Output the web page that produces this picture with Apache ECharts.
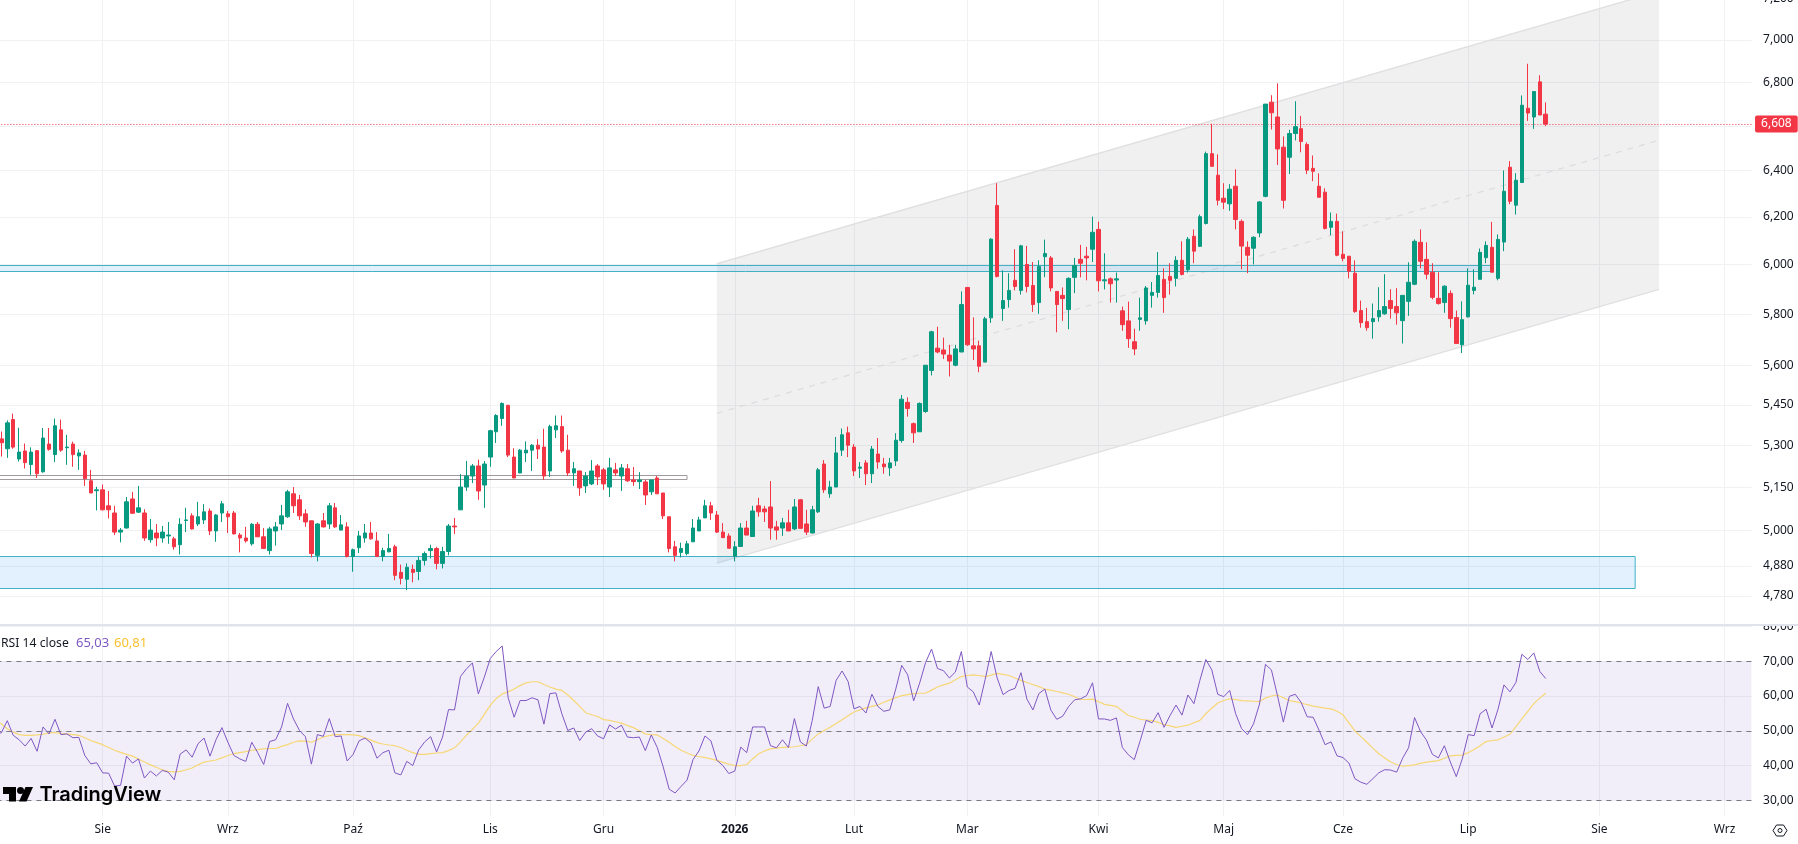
<!DOCTYPE html>
<html lang="pl">
<head>
<meta charset="utf-8">
<title>Wykres dzienny z RSI</title>
<script src="https://cdn.jsdelivr.net/npm/echarts@6/dist/echarts.min.js"></script>
<style>
  html, body { margin: 0; padding: 0; background: #fff; overflow: hidden; }
  #chart { width: 1798px; height: 844px; }
</style>
</head>
<body>
<div id="chart"></div>
<script>
// Daily session values, oldest first.
const opens = [
5324,5288,5395,5251,5280,5231,5281,5205,5305,5267,
5357,5292,5305,5262,5265,5173,5138,5141,5085,5060,
4994,5008,5109,5063,5060,4968,4991,4974,4981,4971,
4951,5034,5050,5022,5036,5067,4998,5060,5057,5060,
4984,4974,4954,5021,4978,4931,4998,5022,5047,5127,
5106,5057,5033,4915,5033,5022,5078,5001,5012,4911,
4941,4974,4991,4964,4911,4927,4944,4858,4835,4868,
4861,4898,4931,4938,4888,4928,5015,5071,5151,5190,
5226,5158,5258,5350,5399,5448,5258,5201,5273,5283,
5301,5294,5208,5357,5369,5283,5201,5208,5155,5162,
5226,5212,5151,5212,5190,5216,5176,5170,5169,5134,
5183,5130,5047,4944,4925,4921,4961,4998,5043,5085,
5053,4994,4981,4912,4945,5008,4979,5085,5074,5081,
5012,5008,5026,5005,5106,5022,4991,5064,5233,5127,
5151,5283,5346,5294,5218,5237,5198,5269,5233,5219,
5244,5318,5459,5380,5350,5425,5580,5666,5659,5639,
5600,5651,5907,5675,5675,5612,5785,6249,5822,5858,
5936,5895,6001,5915,5846,6033,6028,5891,5875,5818,
5948,6022,6035,6064,6147,5934,5942,5937,5813,5773,
5691,5779,5773,5875,5887,5940,5952,5944,6018,5979,
6118,6076,6172,6475,6380,6280,6256,6332,6181,6072,
6068,6132,6288,6708,6640,6504,6459,6565,6587,6516,
6410,6332,6306,6156,6181,6043,6035,5965,5814,5770,
5770,5789,5801,5854,5830,5774,5851,5920,6093,6022,
5969,5863,5846,5883,5786,5679,5789,5895,5940,6029,
6072,5944,6094,6415,6250,6348,6680,6640,6802,6653];

const closes = [
5310,5383,5294,5276,5238,5276,5198,5327,5286,5372,
5283,5294,5267,5273,5181,5130,5141,5071,5071,4994,
5001,5099,5059,5078,4974,5001,4974,4994,4984,4944,
5021,5036,5005,5047,5064,4998,5053,5092,5047,4988,
4974,4964,5021,4978,4938,5005,5012,5050,5134,5085,
5050,5029,4921,5022,5012,5085,5012,5019,4911,4934,
4981,4991,4971,4911,4931,4938,4848,4838,4875,4858,
4898,4921,4938,4888,4928,5015,5012,5151,5190,5226,
5137,5233,5354,5410,5455,5265,5183,5283,5283,5301,
5287,5190,5369,5372,5280,5201,5216,5148,5190,5208,
5187,5162,5219,5201,5219,5173,5170,5176,5123,5176,
5127,5050,4938,4915,4938,4954,5008,5036,5085,5060,
4994,4975,4939,4944,5008,4984,5067,5064,5064,5008,
5001,5026,4998,5081,5007,4994,5071,5212,5141,5151,
5273,5339,5301,5208,5222,5198,5287,5240,5223,5237,
5319,5471,5436,5346,5455,5600,5730,5651,5643,5616,
5663,5838,5679,5663,5596,5781,6106,5952,5854,5895,
5911,6078,5911,5838,5993,6046,5905,5838,5862,5944,
5997,6006,6028,6135,5934,5938,5922,5942,5758,5703,
5663,5785,5905,5887,5956,5866,5936,6018,5960,6106,
6056,6201,6475,6419,6271,6263,6319,6189,6077,6039,
6114,6264,6699,6659,6496,6271,6565,6596,6529,6402,
6397,6284,6151,6181,6039,6026,5973,5810,5766,5746,
5782,5814,5830,5822,5805,5875,5928,6097,6014,5961,
5867,5842,5912,5782,5684,5778,5916,5908,6051,6080,
5969,6105,6310,6267,6358,6694,6658,6757,6649,6608];

const lows = [
5260,5255,5288,5242,5217,5194,5183,5202,5281,5240,
5277,5230,5223,5212,5155,5130,5069,5069,5041,4984,
4959,5007,5057,5060,4964,4958,4946,4958,4954,4934,
4918,4994,5003,5015,5022,4984,4961,5029,4991,4986,
4925,4958,4948,4977,4938,4918,4948,5001,5043,5060,
5036,5012,4908,4895,5010,5005,5008,5001,4908,4860,
4923,4958,4968,4911,4895,4925,4832,4818,4799,4825,
4832,4881,4905,4868,4871,4915,4988,5070,5137,5165,
5106,5078,5223,5309,5372,5258,5183,5201,5240,5208,
5251,5176,5187,5327,5273,5190,5155,5120,5130,5158,
5158,5141,5116,5190,5137,5169,5155,5144,5088,5123,
5127,5039,4925,4895,4908,4915,4961,4998,5043,5036,
4991,4975,4939,4895,4944,4983,4978,5047,5029,4968,
4968,4981,4998,5001,5005,4984,4990,5060,5130,5113,
5151,5262,5258,5190,5183,5158,5165,5216,5198,5190,
5226,5310,5406,5309,5350,5420,5561,5646,5624,5557,
5596,5651,5675,5620,5573,5612,5765,5948,5773,5826,
5895,5878,5887,5809,5801,5949,5891,5728,5773,5740,
5884,5948,5936,6011,5891,5899,5846,5846,5734,5667,
5639,5734,5758,5826,5866,5805,5878,5911,5956,5968,
6006,6074,6168,6419,6249,6233,6226,6147,5981,5965,
6001,6114,6284,6583,6425,6236,6385,6534,6481,6385,
6354,6284,6147,6122,6035,6014,5944,5805,5746,5734,
5703,5770,5797,5782,5758,5684,5793,5916,5985,5940,
5859,5838,5805,5746,5684,5647,5786,5879,5940,6006,
5969,5936,6056,6254,6210,6348,6622,6586,6649,6599];

const highs = [
5351,5392,5417,5365,5307,5293,5283,5364,5364,5399,
5395,5339,5314,5286,5280,5212,5152,5160,5137,5085,
5008,5116,5134,5155,5073,5039,5022,5015,5029,4978,
5042,5078,5059,5099,5091,5076,5056,5102,5067,5067,
4991,5012,5025,5029,5008,5012,5029,5088,5141,5151,
5123,5073,5033,5025,5060,5095,5095,5053,5028,4938,
4998,5022,5029,4994,4941,4988,4951,4884,4888,4884,
4911,4928,4951,4944,4944,5022,5043,5197,5244,5233,
5249,5244,5357,5415,5459,5450,5290,5287,5315,5305,
5323,5361,5376,5410,5410,5339,5240,5208,5204,5247,
5233,5219,5255,5237,5233,5233,5222,5204,5176,5176,
5190,5130,5047,4964,4958,4964,5039,5047,5106,5099,
5067,5025,4990,4963,5025,5033,5085,5113,5085,5172,
5033,5043,5071,5109,5109,5071,5085,5219,5247,5173,
5331,5362,5369,5305,5240,5247,5298,5327,5255,5255,
5345,5487,5478,5384,5459,5600,5734,5750,5707,5679,
5679,5891,5907,5787,5695,5789,6110,6345,5977,5965,
6064,6082,6078,6011,6018,6104,6036,5891,5907,5948,
6028,6082,6074,6201,6180,6047,5948,5968,5830,5850,
5742,5866,5913,5929,6052,5985,6006,6035,6097,6115,
6147,6210,6484,6609,6472,6345,6341,6406,6189,6097,
6118,6268,6699,6740,6795,6552,6582,6712,6645,6525,
6467,6388,6323,6219,6214,6139,6035,6018,5854,5825,
5842,5908,5961,5900,5904,5875,6010,6105,6147,6093,
6006,5969,5916,5895,5814,5851,5985,5981,6067,6097,
6179,6126,6401,6442,6389,6739,6887,6757,6833,6707];

// RSI(14) of the close and its moving average, one value per session.
const rsi = [
49.4,52.9,48.7,47.4,45.6,47.8,44.1,51.1,49.1,53.3,
48.9,49.1,48,48.1,42.9,40.5,40.8,37.9,37.8,34.1,
34.3,42.7,40.7,41.9,36.4,38.4,37,38.6,38.1,35.9,
43.3,44.5,42.4,46.3,47.9,42.7,47.4,50.9,46.7,42.9,
41.9,41.2,46.7,43.7,40.3,46.9,47.4,51.1,57.9,53.4,
50.1,48.3,40.4,48.9,48.4,53.5,48.3,48.5,41.3,43.2,
47.1,47.9,46.5,42.1,43.7,44.4,37.9,37.3,41.2,40,
44.5,46.8,48.3,43.9,48.2,56.1,56,65.6,67.8,69.5,
60.6,65.4,70.8,72.8,74.4,59.5,53.9,58.7,58.7,59.5,
58.9,51.9,60.7,60.9,54.9,50.1,50.8,47.2,49.6,50.6,
48.5,47.7,51.7,50.5,51.6,48.2,48,48.2,44.3,48.8,
45.2,39.6,33.2,32.1,34,35.8,41.7,44.2,48.5,47.1,
41.5,40,37.7,38.4,45.3,43.7,51.1,51.1,51.1,45.7,
45.1,47.4,45.2,53.5,46.8,45.6,53,62.7,56.5,57,
64.5,67.2,64.2,56.3,57,55.1,60.5,57,55.6,56,
62,68.8,66.1,58.6,63.7,69.6,73.5,67.9,67.3,65.2,
66.9,72.8,62.6,61.2,57.4,64.8,72.8,65.2,60.4,61.6,
62.2,66.7,59.1,56,60.7,62,56,53.3,54.2,57,
58.9,59.2,60.1,63.8,53.4,53.4,53,53.7,45.2,43.1,
41.7,47.2,53,52.3,55.2,51,54.4,57.4,54.5,60.3,
57.8,64.5,70.5,67.5,60.5,59.8,61.6,54.9,50.6,48.9,
52,57.7,69.1,67.5,60.2,52.5,59.9,60.5,58.1,54,
53.9,50.1,46,46.8,42.8,42.3,40.7,36.2,35.2,34.6,
36.2,37.9,38.8,38.7,38.1,42.1,45.1,53.8,49.8,47.3,
43.2,42.2,45.7,41,36.8,41.9,48.9,48.6,54.9,56.2,
50.8,56.2,63.2,61.2,63.9,72,70.5,72.4,67.1,65.03];

const rsiMa = [
52,50.6,49.6,48.9,48.7,48.7,48.8,49,49.4,49.5,
49.2,49.1,48.9,48.7,48,47.2,46.6,46,45.2,44.4,
43.8,43.2,42.7,41.9,41,40.2,39.5,38.8,38.3,38.2,
38.3,38.8,39.3,40.2,41,41.3,41.6,42.2,42.9,43.4,
43.7,44,44.4,44.6,44.8,44.9,44.9,45.5,46,46.7,
47.1,47,46.7,47.4,48.2,48.6,48.9,48.9,48.9,48.8,
48.6,48,47.3,46.6,46.2,45.9,45.7,45.2,44.4,43.7,
43.2,43.2,43.4,43.6,43.7,44.3,45.1,46.8,48.7,50.4,
52.2,54.7,57.3,59.3,60.6,61.2,62,63,63.8,64.1,
64.1,63.3,62.6,62,61.6,60.3,58.7,57,55.2,54.6,
54.1,53.2,53,52.6,52.2,51.5,50.9,50,49.1,48.9,
48.8,47.8,46.7,45.5,44.4,43.6,42.9,42.6,42.3,41.9,
41.5,40.9,40.4,40,40,40.3,41.9,43.4,44.2,44.8,
45,45.2,45.3,45.4,45.7,46,47.6,49.1,50.1,51,
52.1,53.2,54.3,55.4,56,56.6,57,57.4,58.2,58.9,
59.5,60.1,60.4,60.7,60.8,60.8,61.7,62.6,63.2,63.7,
64.7,65.6,65.9,66.1,65.9,65.6,66,66.5,66.2,65.9,
65.2,64.5,63.9,63.3,62.7,62,61.7,61.3,60.9,60.5,
59.8,59,59,59.1,58.4,57.6,57.3,57,55.7,54.4,
53.9,53.3,53.1,52.9,52.4,51.8,51.4,51,51.3,51.6,
52.3,53,54.9,56.5,58,58.7,59.2,59,58.7,58.6,
58.5,58.4,59.4,60,60.3,59.5,58.7,58.4,58,57.5,
57.1,56.8,56.5,56.3,55.6,54.6,52.3,50,48.3,46.7,
45,43.4,42.2,41,40.3,39.8,40,40.2,40.6,41,
41.2,41.4,42.1,42.8,42.9,43,43.7,44.6,45.7,46.9,
47.2,47.4,48.2,49,51.2,53.4,55.6,57.8,59.4,60.81];

// Session numbers of the first session of each month, with their axis labels.
const monthSessions = [17, 38, 59, 82, 101, 123, 143, 162, 184, 205, 225, 246, 268, 289];
const monthLabels = ['Sie', 'Wrz', 'Paź', 'Lis', 'Gru', '2026', 'Lut', 'Mar', 'Kwi', 'Maj', 'Cze', 'Lip', 'Sie', 'Wrz'];

const priceTicks = [7200, 7000, 6800, 6600, 6400, 6200, 6000, 5800, 5600, 5450, 5300, 5150, 5000, 4880, 4780];
const rsiTicks = [80, 70, 60, 50, 40, 30];
const rsiLevels = [70, 50, 30];

// Rising channel: session numbers and prices at both ends.
const channelSessions = [120, 278];
const channelUpper = [6004, 7238];
const channelMiddle = [5418, 6535];
const channelLower = [4889, 5899];

// Horizontal zones, running from before the first session.
const demandZone = { end: 274, high: 4913, low: 4807 };
const resistanceZone = { end: 250, high: 6000, low: 5975 };
const pivotZone = { end: 115, high: 5193, low: 5181 };

const UP = '#089981', DOWN = '#F23645', INK = '#131722', GRID = '#f0f1f3';
const FONT = '"Noto Sans", sans-serif';
const LEAD = 2;          // empty slots left of the first session, off the canvas
const SLOTS = 296;       // sessions plus the blank space on the right
const BAR_STEP = 5.963;

const slots = Array.from({ length: SLOTS }, (_, i) => String(i - LEAD));
const monthOf = new Map(monthSessions.map((s, i) => [s, monthLabels[i]]));
const candles = opens.map((o, i) => [o, closes[i], lows[i], highs[i]]);
const blankCandle = ['-', '-', '-', '-'];
const lastClose = closes[closes.length - 1];
const plPrice = v => Number(v).toLocaleString('en-US');
const plRsi = v => Number(v).toFixed(2).replace('.', ',');

function zoneSeries(zone, fill, stroke) {
  return {
    type: 'custom', xAxisIndex: 0, yAxisIndex: 0, z: 3, silent: true, clip: true,
    data: [[0, zone.high]],
    renderItem: (p, api) => {
      const a = api.coord([0, zone.high]);
      const b = api.coord([zone.end + LEAD, zone.low]);
      const x = a[0], y = Math.round(a[1]) + 0.5, w = b[0] - a[0], h = Math.round(b[1]) - Math.round(a[1]);
      return { type: 'rect', shape: { x, y, width: w, height: h }, style: { fill, stroke, lineWidth: 1 } };
    }
  };
}

const channelSeries = {
  type: 'custom', xAxisIndex: 0, yAxisIndex: 0, z: 2, silent: true, clip: true,
  data: [[channelSessions[0] + LEAD, channelUpper[0]]],
  renderItem: (p, api) => {
    const at = (k, arr) => api.coord([channelSessions[k] + LEAD, arr[k]]);
    const ul = at(0, channelUpper), ur = at(1, channelUpper);
    const ll = at(0, channelLower), lr = at(1, channelLower);
    const ml = at(0, channelMiddle), mr = at(1, channelMiddle);
    const edge = { stroke: '#e0e0e2', lineWidth: 1.4 };
    return {
      type: 'group',
      children: [
        { type: 'polygon', shape: { points: [ul, ur, lr, ll] }, style: { fill: 'rgba(120,123,134,0.115)' } },
        { type: 'line', shape: { x1: ul[0], y1: ul[1], x2: ur[0], y2: ur[1] }, style: edge },
        { type: 'line', shape: { x1: ll[0], y1: ll[1], x2: lr[0], y2: lr[1] }, style: edge },
        { type: 'line', shape: { x1: ml[0], y1: ml[1], x2: mr[0], y2: mr[1] },
          style: { stroke: '#dcdcde', lineWidth: 1.2, lineDash: [6, 6] } }
      ]
    };
  }
};

function timeAxis(gridIndex, showLabels) {
  return {
    type: 'category', gridIndex, data: slots, boundaryGap: true,
    axisLine: { show: false }, axisTick: { show: false },
    splitLine: {
      show: true, alignWithLabel: true,
      interval: i => monthOf.has(i - LEAD),
      lineStyle: { color: GRID, width: 1 }
    },
    axisLabel: {
      show: showLabels, margin: 8, hideOverlap: false,
      interval: i => monthOf.has(i - LEAD),
      formatter: v => {
        const t = monthOf.get(Number(v));
        return t === '2026' ? '{year|2026}' : (t || '');
      },
      color: INK, fontFamily: FONT, fontSize: 12,
      rich: { year: { fontWeight: 'bold', color: INK, fontFamily: FONT, fontSize: 12 } }
    }
  };
}

const option = {
  animation: false,
  backgroundColor: '#ffffff',
  textStyle: { fontFamily: FONT },
  grid: [
    { left: -13.6, top: -1, width: SLOTS * BAR_STEP, height: 626.2, outerBoundsMode: 'none' },
    { left: -13.6, top: 626.5, width: SLOTS * BAR_STEP, height: 189.5, outerBoundsMode: 'none' }
  ],
  xAxis: [timeAxis(0, false), timeAxis(1, true)],
  yAxis: [
    {
      type: 'log', logBase: 10, gridIndex: 0, position: 'right', min: 4685, max: 7200,
      axisLine: { show: false }, axisTick: { show: false, customValues: priceTicks },
      minorTick: { show: false }, minorSplitLine: { show: false },
      splitLine: { show: true, lineStyle: { color: GRID, width: 1 } },
      axisLabel: {
        customValues: priceTicks, margin: 11.6, color: INK, fontFamily: FONT, fontSize: 12,
        showMinLabel: true, showMaxLabel: true, hideOverlap: false,
        formatter: v => (v === 6600 ? '' : plPrice(v))
      }
    },
    {
      type: 'value', gridIndex: 1, position: 'right', min: 25.48, max: 80,
      axisLine: { show: false }, axisTick: { show: false, customValues: rsiTicks },
      splitLine: { show: true, lineStyle: { color: GRID, width: 1 } },
      axisLabel: {
        customValues: rsiTicks, margin: 11.6, color: INK, fontFamily: FONT, fontSize: 12,
        showMinLabel: true, showMaxLabel: true, hideOverlap: false,
        formatter: plRsi
      }
    }
  ],
  series: [
    channelSeries,
    zoneSeries(demandZone, 'rgba(33,150,243,0.13)', '#40b2c4'),
    zoneSeries(resistanceZone, 'rgba(33,150,243,0.13)', '#40b2c4'),
    zoneSeries(pivotZone, 'rgba(255,255,255,0)', '#a39a9e'),
    {
      type: 'candlestick', name: 'Cena', xAxisIndex: 0, yAxisIndex: 0, z: 5,
      barWidth: 4, silent: true,
      data: [blankCandle, blankCandle].concat(candles),
      itemStyle: { color: UP, color0: DOWN, borderColor: UP, borderColor0: DOWN, borderWidth: 1 },
      markLine: {
        silent: true, symbol: 'none', animation: false, precision: 0,
        lineStyle: { color: DOWN, type: [1, 2], width: 1, opacity: 1 },
        label: {
          show: true, position: 'end', distance: 3.6, formatter: () => plPrice(lastClose),
          color: '#fff', backgroundColor: DOWN, padding: [3, 6, 2, 6], borderRadius: 2,
          fontFamily: FONT, fontSize: 12
        },
        data: [{ yAxis: lastClose }]
      }
    },
    {
      type: 'line', name: 'RSI', xAxisIndex: 1, yAxisIndex: 1, z: 5,
      showSymbol: false, silent: true,
      data: ['-', 49].concat(rsi),
      lineStyle: { color: '#7E57C2', width: 1 },
      markArea: {
        silent: true,
        itemStyle: { color: 'rgba(126,87,194,0.1)' },
        data: [[{ yAxis: rsiLevels[0] }, { yAxis: rsiLevels[2] }]]
      },
      markLine: {
        silent: true, symbol: 'none', animation: false,
        lineStyle: { color: '#787B86', type: [5, 5], width: 1, opacity: 1 },
        label: { show: false },
        data: rsiLevels.map(v => ({ yAxis: v })).concat([{
          yAxis: rsi[rsi.length - 1],
          lineStyle: { opacity: 0 },
          label: {
            show: true, position: 'end', distance: 3.6, formatter: () => plRsi(rsi[rsi.length - 1]),
            color: '#fff', backgroundColor: '#7E57C2', padding: [2, 6, 2, 6], fontFamily: FONT, fontSize: 12
          }
        }])
      }
    },
    {
      type: 'line', name: 'RSI MA', xAxisIndex: 1, yAxisIndex: 1, z: 4,
      showSymbol: false, silent: true,
      data: ['-', 52.8].concat(rsiMa),
      lineStyle: { color: '#F7D774', width: 1.2 },
      markLine: {
        silent: true, symbol: 'none', animation: false,
        lineStyle: { opacity: 0 },
        data: [{
          yAxis: rsiMa[rsiMa.length - 1],
          label: {
            show: true, position: 'end', distance: 3.6, formatter: () => plRsi(rsiMa[rsiMa.length - 1]),
            color: INK, backgroundColor: '#FBC02D', padding: [2, 6, 2, 6], fontFamily: FONT, fontSize: 12
          }
        }]
      }
    }
  ],
  graphic: [
    // pane separator, which also hides the top half of the uppermost RSI label
    { type: 'rect', z: 100, shape: { x: 1754, y: 606, width: 44, height: 18 }, style: { fill: '#fff' } },
    { type: 'rect', z: 101, shape: { x: 0, y: 624, width: 1798, height: 2 }, style: { fill: '#e0e3eb' } },
    // indicator legend
    { type: 'text', z: 101, x: 1, y: 643.5, style: { text: 'RSI 14 close', fill: INK, font: '12.2px ' + FONT, verticalAlign: 'middle' } },
    { type: 'text', z: 101, x: 76, y: 643.5, style: { text: plRsi(rsi[rsi.length - 1]), fill: '#7E57C2', font: '13px ' + FONT, verticalAlign: 'middle' } },
    { type: 'text', z: 101, x: 114, y: 643.5, style: { text: plRsi(rsiMa[rsiMa.length - 1]), fill: '#FBC02D', font: '13px ' + FONT, verticalAlign: 'middle' } },
    // TradingView mark
    { type: 'polygon', z: 101, shape: { points: [[3, 787], [16, 787], [16, 801.5], [9, 801.5], [9, 794], [3, 794]] }, style: { fill: '#000' } },
    { type: 'circle', z: 101, shape: { cx: 20.5, cy: 790.5, r: 3.5 }, style: { fill: '#000' } },
    { type: 'polygon', z: 101, shape: { points: [[25.5, 787], [33, 787], [26.5, 801.5], [19, 801.5]] }, style: { fill: '#000' } },
    { type: 'text', z: 101, x: 39.5, y: 795, style: { text: 'TradingView', fill: '#000', font: '600 20px Inter, sans-serif', verticalAlign: 'middle' } },
    // settings button on the time scale
    { type: 'polygon', z: 101, shape: { points: [[1773, 830.5], [1776.5, 825], [1783.5, 825], [1787, 830.5], [1783.5, 836], [1776.5, 836]] }, style: { fill: 'none', stroke: INK, lineWidth: 1 } },
    { type: 'circle', z: 101, shape: { cx: 1780, cy: 830.5, r: 2 }, style: { fill: 'none', stroke: INK, lineWidth: 1 } }
  ]
};

echarts.init(document.getElementById('chart'), null, { renderer: 'canvas' }).setOption(option);
</script>
</body>
</html>
